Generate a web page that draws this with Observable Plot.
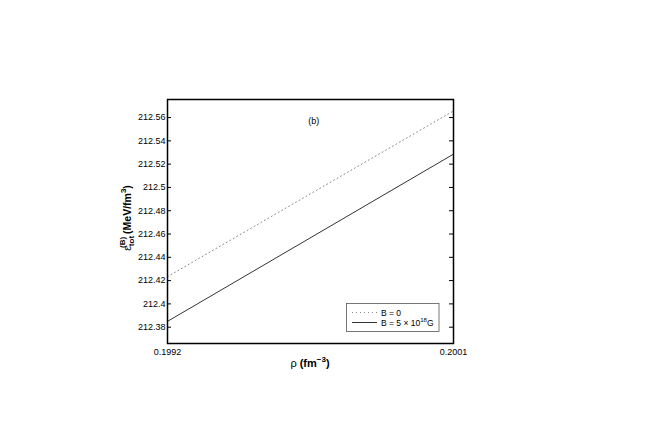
<!DOCTYPE html>
<html>
<head>
<meta charset="utf-8">
<script src="https://cdn.jsdelivr.net/npm/d3@7"></script>
<script src="https://cdn.jsdelivr.net/npm/@observablehq/plot@0.6"></script>
<style>
  html, body { margin: 0; padding: 0; background: #fff; }
  #chart { position: relative; width: 654px; height: 426px; }
  svg { font-family: "Liberation Sans", Arial, Helvetica, sans-serif; }
</style>
</head>
<body>
<div id="chart"></div>
<script>
// ---- data ----
const rho = [0.1992, 0.2001];
const epsB0 = [212.4234, 212.5657];      // B = 0 (dotted)
const epsB5 = [212.3850, 212.5286];      // B = 5 x 10^18 G (solid)
const xTicks = [0.1992, 0.2001];
const yTicks = [212.38, 212.40, 212.42, 212.44, 212.46, 212.48, 212.50, 212.52, 212.54, 212.56];
const xDomain = [0.1992, 0.2001];
const yDomain = [212.3660, 212.5755];
const panelLabel = "(b)";
const panelPos = [0.19966, 212.557];

const dotted = rho.map((r, i) => ({x: r, y: epsB0[i]}));
const solid = rho.map((r, i) => ({x: r, y: epsB5[i]}));

const W = 654, H = 426;
const mL = 167, mR = 201, mT = 99, mB = 83;
const frameW = W - mL - mR;
const tickLen = 4;

const yFmt = d => String(+d.toFixed(2));

const plot = Plot.plot({
  width: W, height: H,
  marginLeft: mL, marginRight: mR, marginTop: mT, marginBottom: mB,
  style: {background: "white", fontFamily: "'Liberation Sans', Arial, sans-serif", fontSize: "9px", color: "#000"},
  x: {domain: xDomain, label: null},
  y: {domain: yDomain, label: null},
  marks: [
    Plot.axisY(yTicks, {anchor: "left", tickSize: 0, tickPadding: 2, tickFormat: yFmt, fontSize: 9, label: null}),
    Plot.axisX(xTicks, {anchor: "bottom", tickSize: 0, tickPadding: 5, tickFormat: d => d.toFixed(4), fontSize: 9, label: null}),
    Plot.tickY(yTicks, {y: d => d, insetRight: frameW - tickLen, stroke: "#000", strokeWidth: 1}),
    Plot.tickY(yTicks, {y: d => d, insetLeft: frameW - tickLen, stroke: "#000", strokeWidth: 1}),
    Plot.line(dotted, {x: "x", y: "y", stroke: "#888", strokeWidth: 1, strokeDasharray: "1,3"}),
    Plot.line(solid, {x: "x", y: "y", stroke: "#333", strokeWidth: 1}),
    Plot.text([panelLabel], {x: () => panelPos[0], y: () => panelPos[1], text: d => d, fontSize: 9, fill: "#000"}),
    Plot.frame({stroke: "#000", strokeWidth: 1.5})
  ]
});

document.getElementById("chart").appendChild(plot);

const svg = d3.select(plot);

// Y axis label: ε_tot^(B) (MeV/fm^3)
const yl = svg.append("text")
  .attr("transform", "translate(131,218) rotate(-90)")
  .attr("text-anchor", "middle")
  .attr("font-size", 10.5)
  .attr("font-weight", "bold")
  .attr("fill", "#000");
yl.append("tspan").attr("font-weight", "normal").text("ε");
yl.append("tspan").attr("font-size", 8).attr("dy", 3).text("tot");
yl.append("tspan").attr("font-size", 8).attr("dx", -12).attr("dy", -9).text("(B)");
yl.append("tspan").attr("dy", 6).text(" (MeV/fm");
yl.append("tspan").attr("font-size", 8).attr("dy", -5).text("3");
yl.append("tspan").attr("dy", 5).text(")");

// X axis label: ρ (fm^-3)
const xl = svg.append("text")
  .attr("x", 310).attr("y", 367)
  .attr("text-anchor", "middle")
  .attr("font-size", 11)
  .attr("font-weight", "bold")
  .attr("fill", "#000");
xl.append("tspan").attr("font-weight", "normal").text("ρ");
xl.append("tspan").text(" (fm");
xl.append("tspan").attr("font-size", 8).attr("dy", -5).text("−3");
xl.append("tspan").attr("dy", 5).text(")");

// Legend (inside axes, lower right)
const lg = svg.append("g").attr("text-anchor", "start");
lg.append("rect").attr("x", 346.5).attr("y", 303.5).attr("width", 92.5).attr("height", 28)
  .attr("fill", "white").attr("stroke", "#555").attr("stroke-width", 0.8);
lg.append("line").attr("x1", 352).attr("x2", 377).attr("y1", 312.5).attr("y2", 312.5)
  .attr("stroke", "#888").attr("stroke-dasharray", "1,3");
lg.append("line").attr("x1", 352).attr("x2", 377).attr("y1", 322.5).attr("y2", 322.5)
  .attr("stroke", "#333");
lg.append("text").attr("x", 381).attr("y", 315.5).attr("font-size", 8.5).attr("text-anchor", "start").text("B = 0");
const t2 = lg.append("text").attr("x", 381).attr("y", 325.5).attr("font-size", 8.5).attr("text-anchor", "start");
t2.append("tspan").text("B = 5 × 10");
t2.append("tspan").attr("font-size", 6).attr("dy", -4).text("18");
t2.append("tspan").attr("dy", 4).text("G");
</script>
</body>
</html>
